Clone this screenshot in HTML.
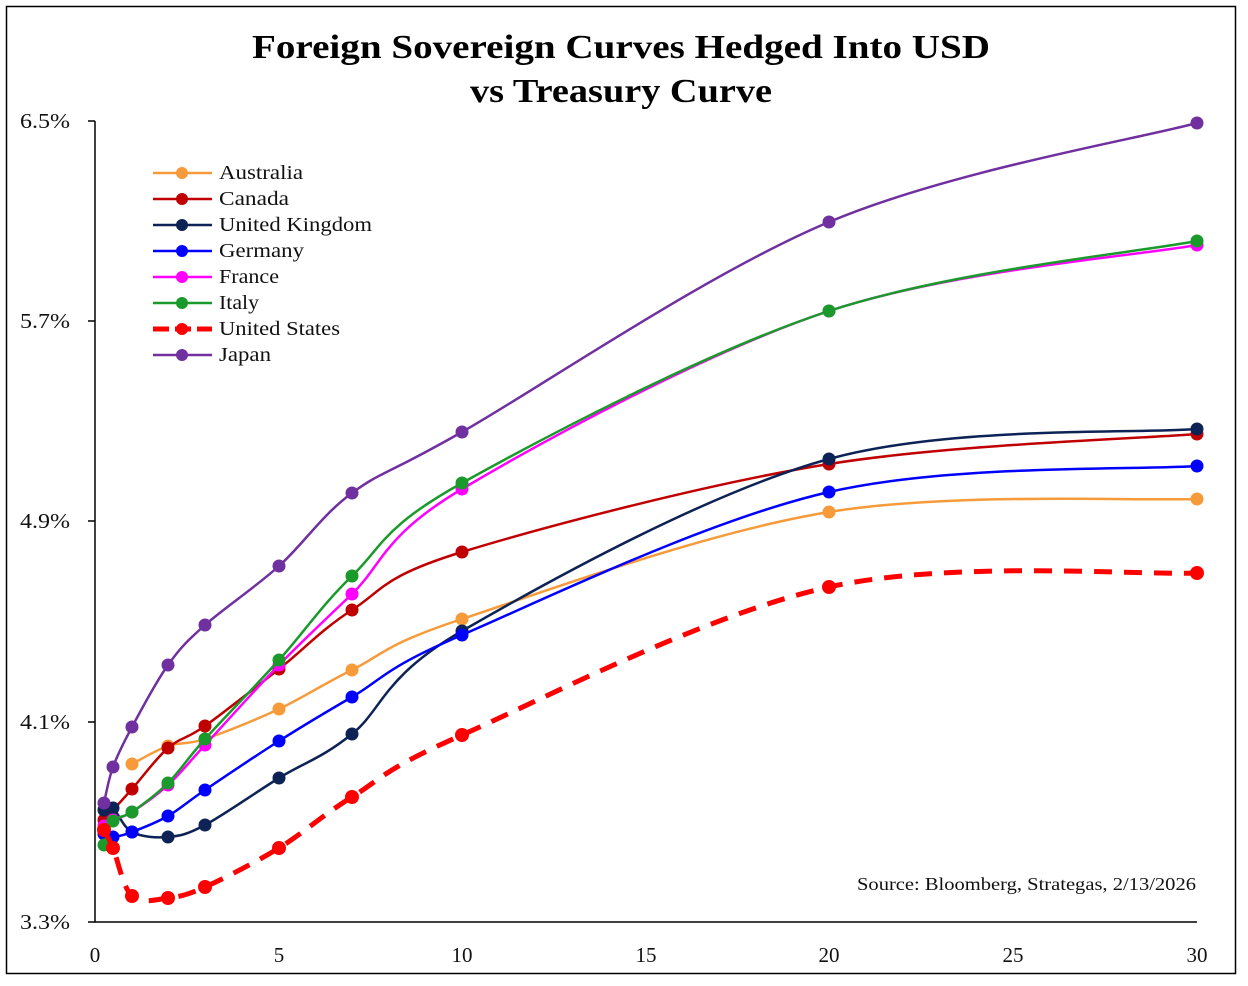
<!DOCTYPE html>
<html><head><meta charset="utf-8"><style>
body{margin:0;background:#fff}
svg{display:block}
text{font-family:"Liberation Serif",serif}
</style></head><body>
<svg id="s" width="1248" height="986" xmlns="http://www.w3.org/2000/svg">
<rect x="6.5" y="6.5" width="1229" height="967" fill="#fff" stroke="#000" stroke-width="1.5"/>
<text x="252" y="58" font-size="34" font-weight="bold" textLength="738" lengthAdjust="spacingAndGlyphs">Foreign Sovereign Curves Hedged Into USD</text>
<text x="470" y="102" font-size="34" font-weight="bold" textLength="302" lengthAdjust="spacingAndGlyphs">vs Treasury Curve</text>
<g stroke="#000" stroke-width="1.5" fill="none">
<path d="M95 121V922H1197"/>
<path d="M88 121H95M88 321H95M88 521H95M88 722H95M88 922H95"/>
</g>
<g font-size="21" fill="#111">
<text x="20" y="128" textLength="50" lengthAdjust="spacingAndGlyphs">6.5%</text><text x="20" y="328" textLength="50" lengthAdjust="spacingAndGlyphs">5.7%</text><text x="20" y="528" textLength="50" lengthAdjust="spacingAndGlyphs">4.9%</text><text x="20" y="729" textLength="50" lengthAdjust="spacingAndGlyphs">4.1%</text><text x="20" y="929" textLength="50" lengthAdjust="spacingAndGlyphs">3.3%</text>
</g>
<g font-size="21" fill="#111" text-anchor="middle">
<text x="95" y="962">0</text><text x="279" y="962">5</text><text x="462" y="962">10</text><text x="646" y="962">15</text><text x="829" y="962">20</text><text x="1013" y="962">25</text><text x="1197" y="962">30</text>
</g>
<text x="857" y="890" font-size="18" fill="#111" textLength="339" lengthAdjust="spacingAndGlyphs">Source: Bloomberg, Strategas, 2/13/2026</text>
<g id="series"></g>
<g id="legend" font-size="20" fill="#111"></g>
</svg>
<script>
var S=[
["Australia","#f79a3a",2.5,[[132,764],[168,746],[205,739],[279,709],[352,670],[462,619],[829,512],[1197,499]],0,84],
["Canada","#c00000",2.5,[[104,820],[132,789],[168,748],[205,726],[279,669],[352,610],[462,552],[829,464],[1197,434]],0,70],
["United Kingdom","#0d2255",2.5,[[104,810],[113,808],[132,832],[168,837],[205,825],[279,778],[352,734],[462,631],[829,459],[1197,429]],0,153],
["Germany","#0000ff",2.5,[[104,834],[113,837],[132,832],[168,816],[205,790],[279,741],[352,697],[462,635],[829,492],[1197,466]],0,85],
["France","#ff00ff",2.5,[[104,826],[113,820],[132,812],[168,785],[205,745],[279,665],[352,594],[462,489],[829,311],[1197,245]],0,60],
["Italy","#1a9a2a",2.5,[[104,845],[113,821],[132,812],[168,783],[205,739],[279,660],[352,576],[462,483],[829,311],[1197,241]],0,40],
["United States","#ff0000",5,[[104,830],[113,848],[132,896],[168,898],[205,887],[279,848],[352,797],[462,735],[829,587],[1197,573]],1,121],
["Japan","#7030a0",2.5,[[104,803],[113,767],[132,727],[168,665],[205,625],[279,566],[352,493],[462,432],[829,222],[1197,123]],0,52]
];
var NS="http://www.w3.org/2000/svg",g=document.getElementById("series"),L=document.getElementById("legend");
function el(n,a,p){var e=document.createElementNS(NS,n);for(var k in a)e.setAttribute(k,a[k]);p.appendChild(e);return e;}
function path(P){var d="M"+P[0][0]+" "+P[0][1];for(var i=0;i<P.length-1;i++){var p0=P[i-1]||P[i],p1=P[i],p2=P[i+1],p3=P[i+2]||p2;
d+=" C"+(p1[0]+(p2[0]-p0[0])/6)+" "+(p1[1]+(p2[1]-p0[1])/6)+" "+(p2[0]-(p3[0]-p1[0])/6)+" "+(p2[1]-(p3[1]-p1[1])/6)+" "+p2[0]+" "+p2[1];}return d;}
S.forEach(function(s,i){
var a={d:path(s[3]),fill:"none",stroke:s[1],"stroke-width":s[2]};if(s[4])a["stroke-dasharray"]="18 12";
el("path",a,g);
s[3].forEach(function(p){el("circle",{cx:p[0],cy:p[1],r:s[4]?7:6.5,fill:s[1]},g);});
var y=173+i*26;
var la={x1:153,x2:212,y1:y,y2:y,stroke:s[1],"stroke-width":s[4]?5:2.5};if(s[4])la["stroke-dasharray"]="16 6";
el("line",la,L);el("circle",{cx:182,cy:y,r:6,fill:s[1]},L);
var t=el("text",{x:219,y:y+6,textLength:s[5],lengthAdjust:"spacingAndGlyphs"},L);t.textContent=s[0];
});
</script>
</body></html>
